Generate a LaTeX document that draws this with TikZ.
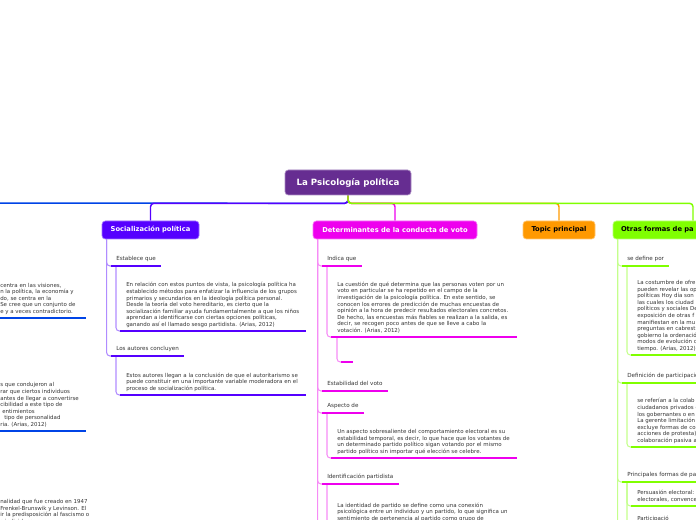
\documentclass[tikz,border=0pt]{standalone}
\usepackage{fontspec}
\setmainfont{DejaVu Sans}
\usepackage{tikz}
\usetikzlibrary{backgrounds}

\definecolor{rootc}{RGB}{102,45,145}
\definecolor{socc}{RGB}{85,0,255}
\definecolor{socl}{RGB}{176,140,255}
\definecolor{detc}{RGB}{238,0,238}
\definecolor{detl}{RGB}{246,140,246}
\definecolor{topc}{RGB}{255,153,0}
\definecolor{otrc}{RGB}{128,255,0}
\definecolor{otrl}{RGB}{196,255,140}
\definecolor{lefc}{RGB}{0,68,230}
\definecolor{txtc}{RGB}{51,51,51}

\newcommand{\mmrootfont}{\fontsize{6.5}{7.5}\selectfont\bfseries}
\newcommand{\mmtitlefont}{\fontsize{5.05}{6}\selectfont\bfseries}
\newcommand{\mmlabfont}{\fontsize{4.2}{5}\selectfont}
\newcommand{\mmbodyfont}{\fontsize{4.1}{4.95}\selectfont}

\tikzset{
  mmtopic/.style={rounded corners=2.5pt, minimum height=13.5pt, inner xsep=0pt,
    font=\mmtitlefont, line width=0.5pt},
  mmlabel/.style={anchor=south west, inner xsep=3.75pt, inner ysep=2.8pt,
    text height=3pt, text depth=1pt, font=\mmlabfont, text=txtc},
  mmbody/.style={anchor=south west, align=left, inner xsep=4.5pt, inner ysep=1.7pt,
    font=\mmbodyfont, text=txtc, execute at end node=\strut},
  link/.style={line width=1.1pt, rounded corners=2.5pt},
  twig/.style={line width=0.8pt, rounded corners=2.5pt},
  uline/.style={line width=2.2pt}
}

\begin{document}
\begin{tikzpicture}[x=0.75pt,y=-0.75pt]
\useasboundingbox (0,0) rectangle (696,520);
\clip (0,0) rectangle (696,520);

% central topic and main branches
\node[mmtopic, fill=rootc, draw=rootc!55!white, text=white, font=\mmrootfont,
  minimum width=94.5pt, minimum height=18.75pt] (root) at (348,182.5) {La Psicología política};
\node[mmtopic, fill=socc, draw=socc!55!white, text=white, minimum width=72.75pt] (soc) at (150.5,230) {Socialización política};
\node[mmtopic, fill=detc, draw=detc!55!white, text=white, minimum width=123pt] (det) at (395,230) {Determinantes de la conducta de voto};
\node[mmtopic, fill=topc, draw=topc!55!white, text=black, minimum width=54pt] (top) at (559,230) {Topic principal};
\node[mmtopic, fill=otrc, draw=otrc!55!white, text=black, inner xsep=6pt, text width=108pt,
  align=left] (otr) at (693,230) {Otras formas de pa};
\coordinate (lefttop) at (-60,203);

% Socializacion politica
\node[mmlabel] (est) at (111,266) {Establece que};
\node[mmbody] (estT) at (120,331) {En relación con estos puntos de vista, la psicología política ha\\
establecido métodos para enfatizar la influencia de los grupos\\
primarios y secundarios en la ideología política personal.\\
Desde la teoría del voto hereditario, es cierto que la\\
socialización familiar ayuda fundamentalmente a que los niños\\
aprendan a identificarse con ciertas opciones políticas,\\
ganando así el llamado sesgo partidista. (Arias, 2012)};
\node[mmlabel] (aut) at (111,356) {Los autores concluyen};
\node[mmbody] (autT) at (120,395) {Estos autores llegan a la conclusión de que el autoritarismo se\\
puede constituir en una importante variable moderadora en el\\
proceso de socialización política.};

% Determinantes de la conducta de voto
\node[mmlabel] (ind) at (322,266) {Indica que};
\node[mmbody] (indT) at (331,337) {La cuestión de qué determina que las personas voten por un\\
voto en particular se ha repetido en el campo de la\\
investigación de la psicología política. En este sentido, se\\
conocen los errores de predicción de muchas encuestas de\\
opinión a la hora de predecir resultados electorales concretos.\\
De hecho, las encuestas más fiables se realizan a la salida, es\\
decir, se recogen poco antes de que se lleve a cabo la\\
votación. (Arias, 2012)};
\node[mmlabel, minimum width=8.25pt] (emp) at (341,362) {};
\node[mmlabel] (esv) at (322,391) {Estabilidad del voto};
\node[mmlabel] (asp) at (322,413) {Aspecto de};
\node[mmbody] (aspT) at (331,458) {Un aspecto sobresaliente del comportamiento electoral es su\\
estabilidad temporal, es decir, lo que hace que los votantes de\\
un determinado partido político sigan votando por el mismo\\
partido político sin importar qué elección se celebre.};
\node[mmlabel] (ide) at (322,484) {Identificación partidista};
\node[mmbody] (ideT) at (331,525) {La identidad de partido se define como una conexión\\
psicológica entre un individuo y un partido, lo que significa un\\
sentimiento de pertenencia al partido como grupo de};
\coordinate (detnext) at (322,600);

% Otras formas de participacion
\node[mmlabel] (def) at (622,266) {se define por};
\node[mmbody] (defT) at (631,355) {La costumbre de ofre\\
pueden revelar las op\\
políticas Hoy día son\\
las cuales los ciudad\\
políticos y sociales De\\
exposición de otras f\\
manifiestan en la mu\\
preguntas en cabrest\\
gobierno la ordenació\\
modos de evolución c\\
tiempo. (Arias, 2012)};
\node[mmlabel] (dpa) at (622,383) {Definición de participació};
\node[mmbody] (dpaT) at (631,447) {se referían a la colab\\
ciudadanos privados c\\
los gobernantes o en\\
La gerente limitación\\
excluye formas de co\\
acciones de protesta)\\
colaboración pasiva a};
\node[mmlabel] (pri) at (622,482) {Principales formas de par};
\node[mmbody] (priT) at (631,506) {Persuasión electoral:\\
electorales, convence};
\node[mmbody] (parT) at (631,525) {Participació};
\coordinate (otrnext) at (622,600);

% left topic, cut by the border
\node[mmbody, inner xsep=0pt] (lb1) at (0,318) {centra en las visiones,\\
n la política, la economía y\\
do, se centra en la\\
Se cree que un conjunto de\\
e y a veces contradictorio.};
\node[mmbody, inner xsep=0pt] (lb2) at (0,431) {s que condujeron al\\
rar que ciertos individuos\\
antes de llegar a convertirse\\
cibilidad a este tipo de\\
\hspace*{1.5pt}entimientos\\
\hspace*{3pt}tipo de personalidad\\
ria. (Arias, 2012)};
\node[mmbody, inner xsep=0pt] (lb3) at (0,528) {nalidad que fue creado en 1947\\
Frenkel-Brunswik y Levinson. El\\
ir la predisposición al fascismo o\\
s individuos};

\begin{scope}[on background layer]
\draw[link, lefc] (root.south) -- ++(0,8) -- (lefttop);
\draw[link, socc] (root.south) -- ++(0,8) -| (soc.north);
\draw[link, detc] (root.south) -- ++(0,8) -| (det.north);
\draw[link, topc] (root.south) -- ++(0,8) -| (top.north);
\draw[link, otrc] (root.south) -- ++(0,8) -| (otr.north);

\draw[twig, socl] ([xshift=3.75pt]soc.south west) |- (est.south west);
\draw[twig, socl] ([xshift=3.75pt]soc.south west) |- (aut.south west);
\draw[twig, socl] ([xshift=3.75pt]est.south west) |- (estT.south west);
\draw[twig, socl] ([xshift=3.75pt]aut.south west) |- (autT.south west);

\draw[twig, detl] ([xshift=3.75pt]det.south west) |- (detnext);
\draw[twig, detl] ([xshift=3.75pt]det.south west) |- (ind.south west);
\draw[twig, detl] ([xshift=3.75pt]det.south west) |- (esv.south west);
\draw[twig, detl] ([xshift=3.75pt]det.south west) |- (asp.south west);
\draw[twig, detl] ([xshift=3.75pt]det.south west) |- (ide.south west);
\draw[twig, detl] ([xshift=3.75pt]ind.south west) |- (indT.south west);
\draw[twig, detl] ([xshift=4.5pt]indT.south west) |- (emp.south west);
\draw[twig, detl] ([xshift=3.75pt]asp.south west) |- (aspT.south west);
\draw[twig, detl] ([xshift=3.75pt]ide.south west) |- (ideT.south west);

\draw[twig, otrl] ([xshift=3.75pt]otr.south west) |- (otrnext);
\draw[twig, otrl] ([xshift=3.75pt]otr.south west) |- (def.south west);
\draw[twig, otrl] ([xshift=3.75pt]otr.south west) |- (dpa.south west);
\draw[twig, otrl] ([xshift=3.75pt]otr.south west) |- (pri.south west);
\draw[twig, otrl] ([xshift=3.75pt]def.south west) |- (defT.south west);
\draw[twig, otrl] ([xshift=3.75pt]dpa.south west) |- (dpaT.south west);
\draw[twig, otrl] ([xshift=3.75pt]pri.south west) |- (priT.south west);
\draw[twig, otrl] ([xshift=3.75pt]pri.south west) |- (parT.south west);
\end{scope}

% underlines
\foreach \n/\c in {est/socc, aut/socc, ind/detc, emp/detc, esv/detc, asp/detc, ide/detc,
    def/otrc, dpa/otrc, pri/otrc}
  \draw[uline, \c] (\n.south west) -- (\n.south east);
\foreach \n/\c in {estT/socc, autT/socc, indT/detc, aspT/detc, ideT/detc,
    defT/otrc, dpaT/otrc, priT/otrc, parT/otrc}
  \draw[uline, \c] (\n.south west) -- ++(186,0);
\draw[uline, lefc] (lb1.south west) -- ++(86,0);
\draw[uline, lefc] (lb2.south west) -- ++(86,0);
\end{tikzpicture}
\end{document}
